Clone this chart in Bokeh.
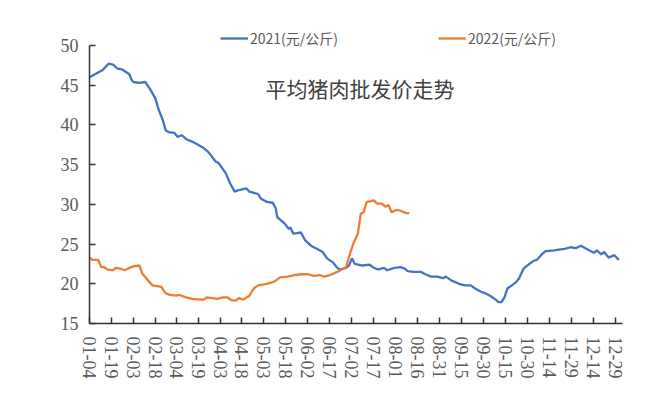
import pandas as pd
from bokeh.plotting import figure
from bokeh.models import Range1d, FixedTicker, Legend, LegendItem, Label
from bokeh.embed import file_html
from bokeh.resources import INLINE

START = "01-04"

tick_labels = ["01-04", "01-19", "02-03", "02-18", "03-04", "03-19", "04-03",
               "04-18", "05-03", "05-18", "06-02", "06-17", "07-02", "07-17",
               "08-01", "08-16", "08-31", "09-15", "09-30", "10-15", "10-30",
               "11-14", "11-29", "12-14", "12-29"]
y_ticks = [15, 20, 25, 30, 35, 40, 45, 50]

dates_2021 = ["01-04", "01-08", "01-13", "01-17", "01-20", "01-23", "01-26", "01-31",
              "02-02", "02-03", "02-07", "02-11", "02-14", "02-18", "02-20", "02-23",
              "02-25", "02-27", "03-03", "03-05", "03-08", "03-11", "03-15", "03-19",
              "03-22", "03-26", "03-31", "04-02", "04-07", "04-10", "04-13", "04-16",
              "04-21", "04-23", "04-25", "04-29", "05-01", "05-05", "05-09", "05-11",
              "05-12", "05-17", "05-20", "05-21", "05-23", "05-27", "05-28", "05-31",
              "06-04", "06-08", "06-12", "06-15", "06-19", "06-22", "06-24", "06-28",
              "06-30", "07-02", "07-04", "07-09", "07-14", "07-17", "07-20", "07-24",
              "07-26", "07-31", "08-04", "08-07", "08-09", "08-13", "08-18", "08-21",
              "08-25", "08-29", "09-02", "09-04", "09-08", "09-13", "09-17", "09-21",
              "09-24", "09-28", "10-01", "10-05", "10-08", "10-10", "10-12", "10-14",
              "10-16", "10-19", "10-22", "10-24", "10-27", "10-31", "11-03", "11-05",
              "11-09", "11-11", "11-17", "11-20", "11-24", "11-28", "12-02", "12-05",
              "12-07", "12-11", "12-14", "12-16", "12-19", "12-21", "12-24", "12-28",
              "12-31"]
price_2021 = [46.0, 46.4, 46.9, 47.7, 47.6, 47.1, 47.0, 46.4,
              45.6, 45.4, 45.3, 45.4, 44.6, 43.3, 42.0, 40.6,
              39.3, 39.1, 39.0, 38.5, 38.7, 38.2, 37.9, 37.5,
              37.2, 36.6, 35.4, 35.2, 33.9, 32.6, 31.6, 31.8,
              32.0, 31.6, 31.5, 31.3, 30.7, 30.3, 30.2, 29.5,
              28.4, 27.6, 26.9, 27.1, 26.3, 26.4, 26.5, 25.5,
              24.8, 24.4, 24.0, 23.2, 22.7, 22.0, 21.8, 22.0,
              22.3, 23.2, 22.5, 22.3, 22.4, 22.0, 21.8, 22.0,
              21.7, 22.0, 22.1, 21.9, 21.6, 21.5, 21.5, 21.2,
              20.9, 20.9, 20.7, 20.9, 20.4, 20.0, 19.8, 19.8,
              19.4, 19.0, 18.8, 18.4, 18.0, 17.7, 17.7, 18.3,
              19.4, 19.8, 20.2, 20.7, 21.9, 22.5, 22.9, 23.0,
              23.8, 24.1, 24.2, 24.3, 24.4, 24.6, 24.5, 24.8,
              24.6, 24.2, 23.9, 24.2, 23.7, 24.0, 23.3, 23.6,
              23.0]

dates_2022 = ["01-04", "01-06", "01-10", "01-12", "01-14", "01-16", "01-20", "01-22",
              "01-25", "01-28", "01-31", "02-03", "02-07", "02-09", "02-13", "02-16",
              "02-19", "02-22", "02-25", "02-28", "03-04", "03-06", "03-11", "03-15",
              "03-20", "03-23", "03-25", "03-29", "04-01", "04-05", "04-08", "04-11",
              "04-14", "04-16", "04-19", "04-23", "04-26", "04-29", "05-05", "05-09",
              "05-11", "05-14", "05-19", "05-24", "05-28", "06-02", "06-06", "06-10",
              "06-13", "06-17", "06-22", "06-25", "06-28", "06-30", "07-03", "07-06",
              "07-08", "07-10", "07-12", "07-15", "07-17", "07-19", "07-22", "07-25",
              "07-27", "07-29", "08-01", "08-04", "08-08", "08-10"]
price_2022 = [23.3, 23.0, 23.0, 22.1, 22.1, 21.8, 21.7, 22.0,
              21.9, 21.7, 22.0, 22.2, 22.3, 21.3, 20.4, 19.8,
              19.7, 19.6, 18.8, 18.6, 18.5, 18.6, 18.3, 18.1,
              18.0, 18.0, 18.3, 18.2, 18.1, 18.3, 18.3, 17.9,
              17.9, 18.2, 18.0, 18.5, 19.4, 19.8, 20.0, 20.2,
              20.4, 20.8, 20.9, 21.1, 21.2, 21.2, 21.0, 21.1,
              20.9, 21.1, 21.5, 21.8, 22.1, 23.4, 25.1, 26.3,
              28.8, 29.0, 30.3, 30.4, 30.5, 30.1, 30.1, 29.7,
              29.9, 29.0, 29.3, 29.2, 28.9, 28.9]

series_names = ["2021(元/公斤)", "2022(元/公斤)"]
title_text = "平均猪肉批发价走势"

BLUE = "#4472C4"
ORANGE = "#ED7D31"
TEXT = "#595959"


def to_day(md):
    return (pd.Timestamp("2021-" + md) - pd.Timestamp("2021-" + START)).days


x21 = [to_day(d) for d in dates_2021]
x22 = [to_day(d) for d in dates_2022]
tick_pos = [to_day(d) for d in tick_labels]

# frame extends above the 50 tick to give room for the legend; the axis is bounded
p = figure(width=660, height=396, output_backend="svg", toolbar_location=None,
           x_range=Range1d(0, 363.5), y_range=Range1d(15, 53.52),
           min_border_left=89, min_border_right=38, min_border_top=17,
           min_border_bottom=73)
p.outline_line_color = None
p.background_fill_color = "white"
p.border_fill_color = "white"
p.xgrid.visible = False
p.ygrid.visible = False

r21 = p.line(x21, price_2021, line_color=BLUE, line_width=2.3)
r22 = p.line(x22, price_2022, line_color=ORANGE, line_width=2.3)

# axes
p.yaxis.ticker = FixedTicker(ticks=y_ticks)
p.yaxis.bounds = (min(y_ticks), max(y_ticks))
p.xaxis.ticker = FixedTicker(ticks=tick_pos)
p.xaxis.major_label_overrides = {pos: lab for pos, lab in zip(tick_pos, tick_labels)}
p.xaxis.major_label_orientation = "vertical"
for ax in (p.xaxis, p.yaxis):
    ax.axis_line_color = "#333333"
    ax.axis_line_width = 1.5
    ax.major_tick_line_color = "#333333"
    ax.major_tick_line_width = 1.5
    ax.major_tick_in = 6
    ax.major_tick_out = 0
    ax.minor_tick_line_color = None
    ax.major_label_text_font = "Liberation Serif"
    ax.major_label_text_font_size = "18px"
    ax.major_label_text_color = TEXT
p.yaxis.major_label_standoff = 11
p.xaxis.major_label_standoff = 13

legend = Legend(items=[LegendItem(label=series_names[0], renderers=[r21]),
                       LegendItem(label=series_names[1], renderers=[r22])],
                orientation="horizontal", location=(131, 275),
                glyph_width=28, glyph_height=20, label_height=20,
                label_standoff=2, spacing=100, padding=0, margin=0,
                border_line_color=None, background_fill_alpha=0,
                label_text_font="Noto Sans CJK SC", label_text_font_size="14px",
                label_text_color=TEXT)
p.add_layout(legend, "center")

p.add_layout(Label(x=120, y=44.6, text=title_text, text_font="Noto Sans CJK SC",
                   text_font_size="21px", text_color="#404040",
                   text_baseline="middle"))

open("out.html", "w").write(file_html(p, INLINE))
